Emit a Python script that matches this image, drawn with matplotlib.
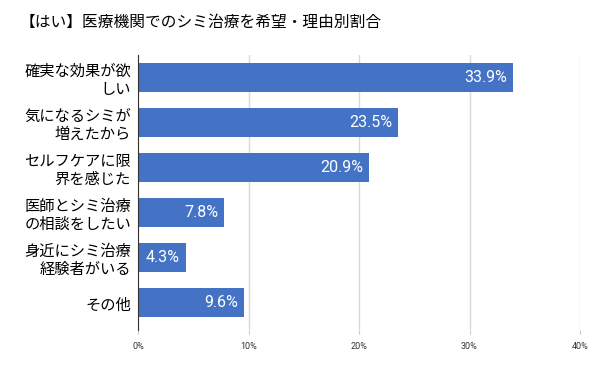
import numpy as np
import matplotlib
matplotlib.use("Agg")
import matplotlib.pyplot as plt

plt.rcParams['font.family'] = ['Noto Sans CJK JP', 'DejaVu Sans']

# Données
titre = "【はい】医療機関でのシミ治療を希望・理由別割合"
raisons = ["確実な効果が欲\nしい", "気になるシミが\n増えたから", "セルフケアに限\n界を感じた",
           "医師とシミ治療\nの相談をしたい", "身近にシミ治療\n経験者がいる", "その他"]
pourcent = [33.9, 23.5, 20.9, 7.8, 4.3, 9.6]
ticks = [0, 10, 20, 30, 40]

fig = plt.figure(figsize=(6, 3.69), dpi=100)
ax = fig.add_axes([0.23, 0.106, 0.7367, 0.745])

y = np.arange(len(raisons))
ax.barh(y, pourcent, height=0.64, color='#4472C4', zorder=3)

for yi, v in zip(y, pourcent):
    ax.text(v - 0.5, yi, f"{v}%", ha='right', va='center', color='white',
            fontsize=11.5, family=['Roboto', 'DejaVu Sans'], zorder=4)

ax.set_yticks(y)
ax.set_yticklabels(raisons, fontsize=11, linespacing=1.1)
ax.tick_params(axis='y', length=0, pad=5)
ax.set_ylim(5.6, -0.5)

ax.set_xlim(0, 40)
ax.set_xticks(ticks)
ax.set_xticklabels([f"{t}%" for t in ticks], fontsize=6.5, color='#333333',
                   family=['Roboto', 'DejaVu Sans'])
ax.tick_params(axis='x', length=3, color='#cccccc', pad=6)
ax.grid(axis='x', color='#d9d9d9', linewidth=1, zorder=0)

for s in ['top', 'right', 'bottom']:
    ax.spines[s].set_visible(False)
ax.spines['left'].set_color('#333333')
ax.spines['left'].set_zorder(5)

fig.text(0.033, 0.94, titre, fontsize=11.3, ha='left', va='center')

fig.savefig("out.png", dpi=100, facecolor='white')
